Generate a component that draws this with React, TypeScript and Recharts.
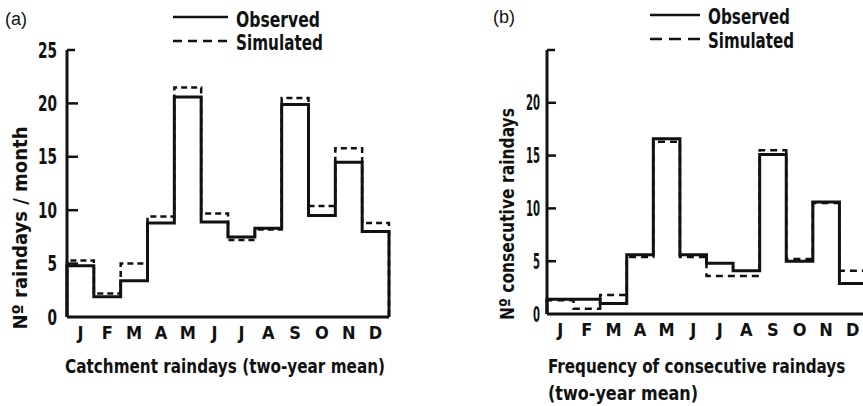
import { ComposedChart, Line, XAxis, YAxis } from "recharts";

const MONTHS = ["J", "F", "M", "A", "M", "J", "J", "A", "S", "O", "N", "D"];
const MONTH_TICKS = [0.5, 1.5, 2.5, 3.5, 4.5, 5.5, 6.5, 7.5, 8.5, 9.5, 10.5, 11.5];
const Y_TICKS = [0, 5, 10, 15, 20, 25];

// (a) catchment raindays per month
const OBS_A = [4.8, 1.9, 3.4, 8.8, 20.6, 8.9, 7.5, 8.3, 19.9, 9.5, 14.5, 8.0];
const SIM_A = [5.3, 2.2, 5.0, 9.4, 21.5, 9.7, 7.2, 8.2, 20.5, 10.4, 15.8, 8.8];

// (b) consecutive raindays
const OBS_B = [1.4, 1.4, 1.0, 5.6, 16.6, 5.6, 4.8, 4.1, 15.1, 5.0, 10.6, 2.9];
const SIM_B = [1.3, 0.5, 1.8, 5.4, 16.3, 5.4, 3.6, 3.6, 15.5, 5.2, 10.5, 4.1];

const FONT = "'Liberation Sans Narrow', 'DejaVu Sans Condensed', 'DejaVu Sans', sans-serif";
const INK = "#111";

// turn monthly values into a closed step outline
function buildSteps(obs: number[], sim: number[]) {
  const rows = [{ x: 0, obs: 0, sim: 0 }];
  obs.forEach((v, i) => rows.push({ x: i, obs: v, sim: sim[i] }));
  rows.push({ x: 12, obs: obs[11], sim: sim[11] });
  rows.push({ x: 12, obs: 0, sim: 0 });
  return rows;
}

const MARGIN = 9;

function makeYTick(tickLen: number, hideTop: boolean, gap: number, digitW: number) {
  return (props: any) => {
    const { x, y, payload } = props;
    const v = payload.value;
    const ax = x + MARGIN;
    const len = v === 25 ? 8 : tickLen;
    return (
      <g>
        {v !== 0 && (
          <line x1={ax} y1={y} x2={ax + len} y2={y} stroke={INK} strokeWidth={2.5} />
        )}
        {!(hideTop && v === 25) && (
          <text
            x={ax - gap}
            y={y}
            dy="0.36em"
            textAnchor="end"
            fill={INK}
            fontSize={21}
            fontFamily={FONT}
            fontWeight="bold"
            textLength={String(v).length * digitW}
            lengthAdjust="spacingAndGlyphs"
          >
            {v}
          </text>
        )}
      </g>
    );
  };
}

function Panel({
  obs,
  sim,
  width,
  bottom,
  right,
  tickLen,
  hideTop,
  gap,
  digitW,
  dash,
}: {
  obs: number[];
  sim: number[];
  width: number;
  bottom: number;
  right: number;
  tickLen: number;
  hideTop: boolean;
  gap: number;
  digitW: number;
  dash: string;
}) {
  const data = buildSteps(obs, sim);
  return (
    <ComposedChart
      width={width}
      height={406}
      data={data}
      margin={{ top: 50, right, bottom, left: 0 }}
    >
      <XAxis
        type="number"
        dataKey="x"
        domain={[0, 12]}
        ticks={MONTH_TICKS}
        tickFormatter={(v: number) => MONTHS[Math.floor(v)]}
        height={30}
        tickLine={false}
        tickSize={0}
        tickMargin={9}
        axisLine={{ stroke: INK, strokeWidth: 3 }}
        tick={{ fill: INK, fontSize: 18, fontFamily: FONT, fontWeight: "bold" }}
        interval={0}
      />
      <YAxis
        type="number"
        domain={[0, 25]}
        ticks={Y_TICKS}
        width={67}
        tickSize={0}
        tickMargin={MARGIN}
        tickLine={false}
        axisLine={{ stroke: INK, strokeWidth: 3 }}
        tick={makeYTick(tickLen, hideTop, gap, digitW)}
        allowDataOverflow
      />
      <Line
        type="stepAfter"
        dataKey="sim"
        stroke={INK}
        strokeWidth={2.5}
        strokeDasharray={dash}
        dot={false}
        activeDot={false}
        isAnimationActive={false}
      />
      <Line
        type="stepAfter"
        dataKey="obs"
        stroke={INK}
        strokeWidth={3}
        dot={false}
        activeDot={false}
        isAnimationActive={false}
      />
    </ComposedChart>
  );
}

const txt = { fill: INK, fontFamily: FONT, fontWeight: "bold" as const };

export default function App() {
  return (
    <div
      style={{
        position: "absolute",
        left: 0,
        top: 0,
        width: 863,
        height: 406,
        overflow: "hidden",
        background: "#fff",
      }}
    >
      <div style={{ position: "absolute", left: 0, top: 0 }}>
        <Panel obs={OBS_A} sim={SIM_A} width={400} bottom={59} right={11} tickLen={11} hideTop={false} gap={10} digitW={9.5} dash="6 4" />
      </div>
      <div style={{ position: "absolute", left: 480, top: 0 }}>
        <Panel obs={OBS_B} sim={SIM_B} width={386} bottom={62} right={0} tickLen={9} hideTop={true} gap={7} digitW={7} dash="7 5" />
      </div>
      <svg
        width={863}
        height={406}
        style={{ position: "absolute", left: 0, top: 0, pointerEvents: "none" }}
      >
        {/* panel labels */}
        <text x={5} y={25} fontSize={18} fontFamily="'Liberation Sans', Arial, sans-serif" fill={INK}>
          (a)
        </text>
        <text x={493} y={23} fontSize={18} fontFamily="'Liberation Sans', Arial, sans-serif" fill={INK}>
          (b)
        </text>

        {/* legend (a) */}
        <line x1={173} y1={17} x2={228} y2={17} stroke={INK} strokeWidth={2.5} />
        <text x={236} y={27} fontSize={21} {...txt} textLength={84} lengthAdjust="spacingAndGlyphs">
          Observed
        </text>
        <line x1={173} y1={41} x2={228} y2={41} stroke={INK} strokeWidth={2.5} strokeDasharray="9 6" />
        <text x={236} y={50} fontSize={21} {...txt} textLength={87} lengthAdjust="spacingAndGlyphs">
          Simulated
        </text>

        {/* legend (b) */}
        <line x1={650} y1={15} x2={700} y2={15} stroke={INK} strokeWidth={2.5} />
        <text x={708} y={24} fontSize={21} {...txt} textLength={82} lengthAdjust="spacingAndGlyphs">
          Observed
        </text>
        <line x1={650} y1={39} x2={700} y2={39} stroke={INK} strokeWidth={2.5} strokeDasharray="12 7" />
        <text x={708} y={48} fontSize={21} {...txt} textLength={86} lengthAdjust="spacingAndGlyphs">
          Simulated
        </text>

        {/* y-axis titles */}
        <text
          x={27}
          y={228}
          transform="rotate(-90 27 228)"
          textAnchor="middle"
          fontSize={20}
          {...txt}
          textLength={203}
          lengthAdjust="spacingAndGlyphs"
        >
          Nº raindays / month
        </text>
        <text
          x={514}
          y={214}
          transform="rotate(-90 514 214)"
          textAnchor="middle"
          fontSize={20}
          {...txt}
          textLength={212}
          lengthAdjust="spacingAndGlyphs"
        >
          Nº consecutive raindays
        </text>

        {/* x-axis titles */}
        <text x={65} y={373} fontSize={20} {...txt} textLength={320} lengthAdjust="spacingAndGlyphs">
          Catchment raindays (two-year mean)
        </text>
        <text transform="translate(548 373) scale(0.89 1)" x={0} y={0} fontSize={19} {...txt}>
          Frequency of consecutive raindays
        </text>
        <text x={548} y={400} fontSize={20} {...txt} textLength={150} lengthAdjust="spacingAndGlyphs">
          (two-year mean)
        </text>
      </svg>
    </div>
  );
}
